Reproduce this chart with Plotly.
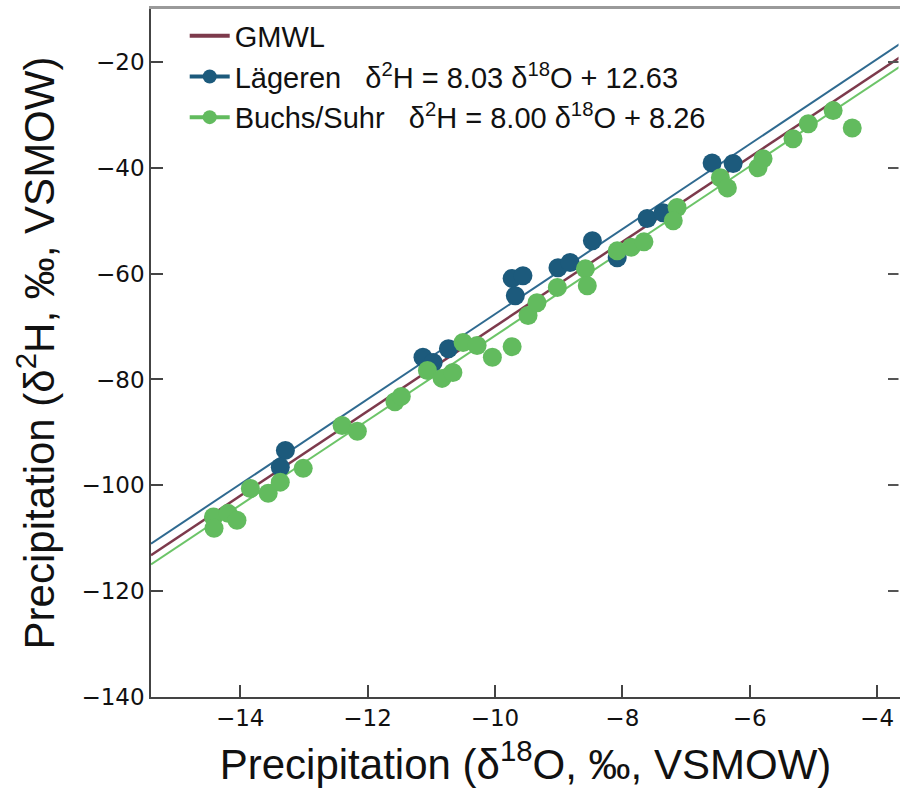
import plotly.graph_objects as go

# ---- data ----
lag_x = [-13.29, -13.37, -11.13, -10.97, -10.73, -9.73, -9.56, -9.68, -9.01, -8.82,
         -8.47, -8.08, -7.61, -7.36, -6.59, -6.26]
lag_y = [-93.4, -96.6, -75.8, -76.8, -74.2, -60.9, -60.4, -64.2, -58.9, -57.9,
         -53.8, -57.0, -49.6, -48.5, -39.1, -39.2]

buchs_x = [-14.42, -14.41, -14.19, -14.05, -13.84, -13.56, -13.37, -13.01, -12.40, -12.16,
           -11.57, -11.47, -11.06, -10.83, -10.66, -10.50, -10.28, -10.04, -9.73, -9.48,
           -9.34, -9.02, -8.58, -8.55, -8.08, -7.86, -7.66, -7.14, -7.20, -6.46,
           -6.35, -5.87, -5.79, -5.32, -5.08, -4.69, -4.39]
buchs_y = [-106.0, -108.1, -105.3, -106.6, -100.6, -101.5, -99.4, -96.8, -88.7, -89.8,
           -84.2, -83.2, -78.3, -79.8, -78.7, -73.0, -73.6, -75.8, -73.8, -67.9,
           -65.5, -62.6, -59.1, -62.3, -55.7, -55.0, -54.0, -47.5, -50.0, -41.9,
           -43.8, -40.0, -38.3, -34.5, -31.7, -29.2, -32.5]

gmwl_fit = (8.00, 10.0)     # slope, intercept
lag_fit = (8.03, 12.63)
buchs_fit = (8.00, 8.26)

x_range = [-15.4, -3.64]
y_range = [-140, -10]
x_ticks = [-14, -12, -10, -8, -6, -4]
y_ticks = [-140, -120, -100, -80, -60, -40, -20]

SP = "\u00a0\u00a0\u00a0"
names = ["GMWL",
         "Lägeren" + SP + "δ<sup>2</sup>H = 8.03 δ<sup>18</sup>O + 12.63",
         "Buchs/Suhr" + SP + "δ<sup>2</sup>H = 8.00 δ<sup>18</sup>O + 8.26"]

C_GMWL = "#7d3a4c"
C_LAG = "#1c5a7c"
C_LAG_LINE = "#2f6a90"
C_BUCHS = "#62bb5e"
C_BUCHS_LINE = "#6cc468"

FONT = "Liberation Sans, Arial, Helvetica, sans-serif"
TICK_FONT = "DejaVu Sans, Liberation Sans, Arial, sans-serif"


def fit_line(fit):
    return [fit[0] * x + fit[1] for x in x_range]


fig = go.Figure()

# regression lines
fig.add_trace(go.Scatter(x=x_range, y=fit_line(lag_fit), mode="lines",
                         line=dict(color=C_LAG_LINE, width=2), showlegend=False, hoverinfo="skip"))
fig.add_trace(go.Scatter(x=x_range, y=fit_line(gmwl_fit), mode="lines",
                         line=dict(color=C_GMWL, width=2.5), showlegend=False, hoverinfo="skip"))
fig.add_trace(go.Scatter(x=x_range, y=fit_line(buchs_fit), mode="lines",
                         line=dict(color=C_BUCHS_LINE, width=2), showlegend=False, hoverinfo="skip"))

# points
fig.add_trace(go.Scatter(x=lag_x, y=lag_y, mode="markers",
                         marker=dict(color=C_LAG, size=19), showlegend=False))
fig.add_trace(go.Scatter(x=buchs_x, y=buchs_y, mode="markers",
                         marker=dict(color=C_BUCHS, size=19), showlegend=False))

# legend entries
fig.add_trace(go.Scatter(x=[None], y=[None], mode="lines", name=names[0],
                         line=dict(color=C_GMWL, width=4)))
fig.add_trace(go.Scatter(x=[None], y=[None], mode="lines+markers", name=names[1],
                         line=dict(color=C_LAG, width=4), marker=dict(color=C_LAG, size=14)))
fig.add_trace(go.Scatter(x=[None], y=[None], mode="lines+markers", name=names[2],
                         line=dict(color=C_BUCHS, width=4), marker=dict(color=C_BUCHS, size=14)))

# empty trace on the overlay axes (top frame line and right-side ticks)
fig.add_trace(go.Scatter(x=[None], y=[None], xaxis="x2", yaxis="y2",
                         showlegend=False, hoverinfo="skip"))

tickfont = dict(family=TICK_FONT, size=23, color="#111")

fig.update_layout(
    width=900, height=798,
    margin=dict(l=151, r=0, t=9, b=101),
    paper_bgcolor="white", plot_bgcolor="white",
    xaxis=dict(range=x_range, tickvals=x_ticks, showgrid=False, zeroline=False,
               ticks="inside", ticklen=12, tickwidth=1.5, tickcolor="#444",
               showline=True, linecolor="#444", linewidth=1.5, tickfont=tickfont,
               title=dict(text="Precipitation (δ<sup>18</sup>O, ‰, VSMOW)",
                          font=dict(family=FONT, size=42, color="#111"), standoff=19)),
    yaxis=dict(range=y_range, tickvals=y_ticks, showgrid=False, zeroline=False,
               ticks="inside", ticklen=12, tickwidth=1.5, tickcolor="#444",
               showline=True, linecolor="#444", linewidth=1.5, tickfont=tickfont,
               title=dict(text="Precipitation (δ<sup>2</sup>H, ‰, VSMOW)",
                          font=dict(family=FONT, size=42, color="#111"), standoff=14)),
    xaxis2=dict(overlaying="x", side="top", matches="x", range=x_range,
                showgrid=False, zeroline=False, showticklabels=False, ticks="",
                showline=True, linecolor="#9a9a9a", linewidth=2.5),
    yaxis2=dict(overlaying="y", side="right", matches="y", range=y_range,
                tickvals=y_ticks, showgrid=False, zeroline=False, showticklabels=False,
                ticks="inside", ticklen=12, tickwidth=1.5, tickcolor="#555",
                showline=False),
    legend=dict(x=0.045, y=0.998, xanchor="left", yanchor="top",
                bgcolor="rgba(255,255,255,0)", itemwidth=40,
                font=dict(family=FONT, size=29, color="#111"),
                tracegroupgap=0),
    shapes=[dict(type="line", xref="paper", yref="paper", x0=1, x1=1, y0=0, y1=1,
                 line=dict(color="white", width=3), layer="above")],
)

fig.write_html("out.html")
